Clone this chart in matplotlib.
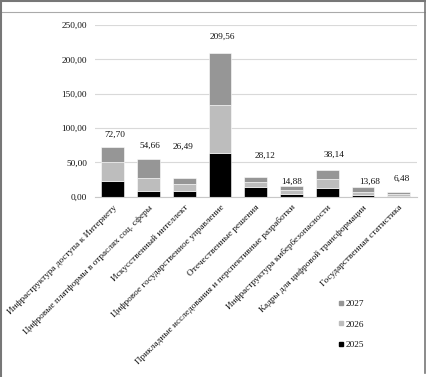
import numpy as np
import matplotlib
matplotlib.use('Agg')
from matplotlib import pyplot as plt
from matplotlib.lines import Line2D

categories = [
    'Инфраструктура доступа к Интернету',
    'Цифровые платформы в отраслях соц. сферы',
    'Искусственный интеллект',
    'Цифровое государственное управление',
    'Отечественные решения',
    'Прикладные исследования и перспективные разработки',
    'Инфраструктура кибербезопасности',
    'Кадры для цифровой трансформации',
    'Государственная статистика',
]
y2025 = [23.3, 8.3, 7.8, 63.5, 14.1, 3.9, 13.1, 2.5, 1.0]
y2026 = [27.6, 19.3, 11.1, 69.8, 7.3, 5.8, 12.6, 4.8, 2.9]
totals = [72.70, 54.66, 26.49, 209.56, 28.12, 14.88, 38.14, 13.68, 6.48]
y2027 = [t - a - b for t, a, b in zip(totals, y2025, y2026)]
yticks = [0, 50, 100, 150, 200, 250]

# label offsets above the bar tops, in pixels (as placed in the original)
label_dx = [2, 1, -1, 2, 9, 0, 7, 7, 3]
label_dy = [12, 13, 32, 16, 22, 5, 16, 5, 13]

c25, c26, c27 = '#000000', '#bdbdbd', '#969696'
fs = 6.7
plt.rcParams['font.family'] = ['Liberation Serif', 'DejaVu Serif']

fig = plt.figure(figsize=(4.26, 3.77), dpi=100)
ax = fig.add_axes([0.2225, 0.4783, 0.7555, 0.4554])

x = np.arange(len(categories))
w = 0.64
b1 = np.array(y2025)
b2 = b1 + np.array(y2026)
ax.bar(x, y2025, w, color=c25, edgecolor='white', linewidth=0.4, zorder=3)
ax.bar(x, y2026, w, bottom=b1, color=c26, edgecolor='white', linewidth=0.4, zorder=3)
ax.bar(x, y2027, w, bottom=b2, color=c27, edgecolor='white', linewidth=0.4, zorder=3)

for i, t in enumerate(totals):
    ax.annotate('{:.2f}'.format(t).replace('.', ','), (x[i], t),
                xytext=(label_dx[i] * 0.72, label_dy[i] * 0.72), textcoords='offset points',
                ha='center', va='center', fontsize=fs, color='#111111')

ax.set_xlim(-0.5, len(categories) - 0.5)
ax.set_ylim(0, 250)
ax.set_yticks(yticks)
ax.set_yticklabels(['{:.2f}'.format(v).replace('.', ',') for v in yticks], fontsize=fs, color='#111111')
ax.tick_params(axis='y', length=0, pad=5.5)
ax.set_xticks(x)
ax.set_xticklabels(categories, rotation=45, ha='right', rotation_mode='anchor', fontsize=fs, color='#111111')
ax.tick_params(axis='x', length=0, pad=5)
ax.yaxis.grid(True, color='#d9d9d9', linewidth=0.8, zorder=0)
for s in ['top', 'right', 'left']:
    ax.spines[s].set_visible(False)
ax.spines['bottom'].set_color('#c8c8c8')
ax.spines['bottom'].set_linewidth(0.8)
ax.spines['bottom'].set_zorder(4)

handles = [Line2D([], [], marker='s', linestyle='', color=c, markersize=3.2) for c in (c27, c26, c25)]
fig.legend(handles, ['2027', '2026', '2025'], loc='upper left', bbox_to_anchor=(0.785, 0.218),
           frameon=False, fontsize=fs, handlelength=0.5, handletextpad=0.2, labelspacing=1.3,
           borderpad=0, labelcolor='#111111')

# outer frame of the original picture
fig.add_artist(Line2D([0, 1], [0.998, 0.998], color='#777777', linewidth=1.5))
fig.add_artist(Line2D([0, 1], [0.969, 0.969], color='#aaaaaa', linewidth=0.8))
fig.add_artist(Line2D([0.002, 0.002], [0, 1], color='#777777', linewidth=1.5))
fig.add_artist(Line2D([0.997, 0.997], [0.01, 1], color='#777777', linewidth=1.2))

fig.savefig('out.png', dpi=100)
